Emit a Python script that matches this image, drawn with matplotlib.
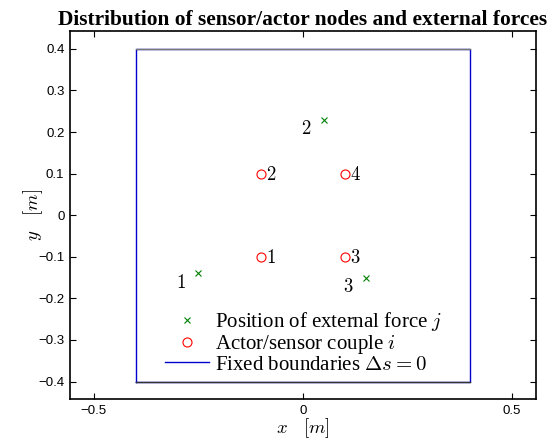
import numpy as np
import matplotlib.pyplot as plt
from matplotlib.lines import Line2D

plt.rcParams['mathtext.fontset'] = 'cm'

# Data -------------------------------------------------------------------

force_x = [-0.25, 0.05, 0.15]
force_y = [-0.14, 0.23, -0.15]
force_ids = ['1', '2', '3']

actor_x = [-0.1, -0.1, 0.1, 0.1]
actor_y = [-0.1, 0.1, -0.1, 0.1]
actor_ids = ['1', '2', '3', '4']

bound_x = [-0.4, 0.4, 0.4, -0.4, -0.4]
bound_y = [-0.4, -0.4, 0.4, 0.4, -0.4]

xticks = [-0.5, 0, 0.5]
yticks = [-0.4, -0.3, -0.2, -0.1, 0, 0.1, 0.2, 0.3, 0.4]

#-------------------------------------------------------------------------

fig = plt.figure(figsize=(5.52, 4.43), dpi=100)
ax = fig.add_axes([70/552, 44/443, 466/552, 368/443])

ax.plot(bound_x, bound_y, color='#0000cc', lw=1.0, zorder=1)
# top / bottom edges render greyish in the original
ax.plot([-0.4, 0.4], [0.4, 0.4], color='#777777', lw=1.0, zorder=2)
ax.plot([-0.4, 0.4], [-0.4, -0.4], color='#333333', lw=1.0, zorder=2)

ax.plot(force_x, force_y, 'x', color='#008000', ms=4, mew=0.8, zorder=3)
ax.plot(actor_x, actor_y, 'o', mfc='none', mec='red', ms=6.5, mew=0.8, zorder=3)

for x, y, s in zip(force_x, force_y, force_ids):
    ax.text(x - 0.042, y - 0.022, '$' + s + '$', fontsize=13.5,
            ha='center', va='center')
for x, y, s in zip(actor_x, actor_y, actor_ids):
    ax.text(x + 0.012, y - 0.002, '$' + s + '$', fontsize=13.5,
            ha='left', va='center')

ax.set_xlim(-0.557, 0.557)
ax.set_ylim(-0.442, 0.443)
ax.set_xticks(xticks)
ax.set_yticks(yticks)
ax.set_xticklabels(['\u22120.5', '0', '0.5'])
ax.set_yticklabels(['\u22120.4', '\u22120.3', '\u22120.2', '\u22120.1', '0',
                    '0.1', '0.2', '0.3', '0.4'])
ax.tick_params(direction='in', top=True, right=True, length=4, width=0.8,
               labelsize=9.5, pad=4)
for lbl in ax.get_xticklabels() + ax.get_yticklabels():
    lbl.set_family('Liberation Sans')
for sp in ax.spines.values():
    sp.set_linewidth(1.2)

ax.set_xlabel(r'$x\quad[m]$', fontsize=13.5, labelpad=0)
ax.set_ylabel(r'$y\quad[m]$', fontsize=13.5, labelpad=-5)
ax.set_title('Distribution of sensor/actor nodes and external forces',
             family='Liberation Serif', fontweight='bold', fontsize=15.4, pad=4)

handles = [
    Line2D([], [], ls='none', marker='x', color='#008000', ms=4, mew=0.8),
    Line2D([], [], ls='none', marker='o', mfc='none', mec='red', ms=6.5, mew=0.8),
    Line2D([], [], color='#0000cc', lw=1.0),
]
labels = ['Position of external force $j$', 'Actor/sensor couple $i$',
          r'Fixed boundaries $\Delta s = 0$']
ax.legend(handles, labels, loc='upper left', bbox_to_anchor=(-0.33, -0.229),
          bbox_transform=ax.transData, frameon=False, borderpad=0,
          borderaxespad=0, handlelength=2.1, handletextpad=0.3,
          labelspacing=-0.03, prop={'family': 'Liberation Serif', 'size': 15})

fig.savefig('out.png', dpi=100)
